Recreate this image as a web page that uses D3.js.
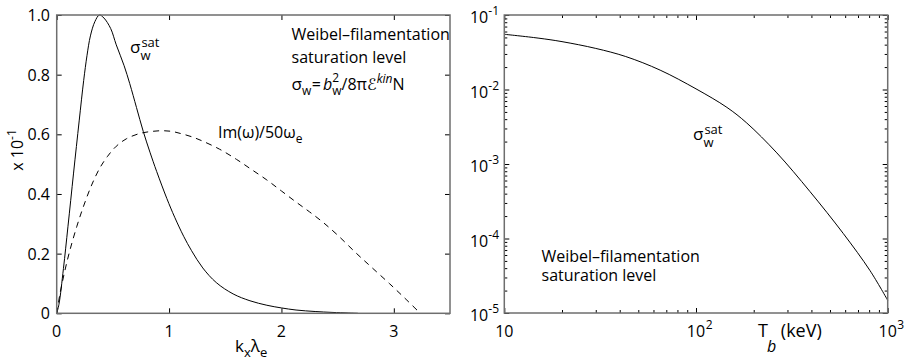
<!DOCTYPE html>
<html><head><meta charset="utf-8">
<script src="https://cdn.jsdelivr.net/npm/d3@7"></script>
<style>
body{margin:0;background:#fff;}
svg{display:block;font-family:"Open Sans","Noto Sans","DejaVu Sans",sans-serif;}
</style></head>
<body><svg id="c" width="907" height="361"></svg>
<script>
// ---- Left panel data ----
const satK = [0, 0.02, 0.06, 0.10, 0.15, 0.20, 0.24, 0.27, 0.30, 0.34, 0.38, 0.42, 0.48, 0.53, 0.60, 0.65, 0.71, 0.77, 0.83, 0.89, 0.98, 1.05, 1.13, 1.20, 1.30, 1.42, 1.57, 1.72, 1.87, 2.00, 2.13, 2.30, 2.45, 2.60, 2.68];
const satVal = [0, 0.03, 0.15, 0.29, 0.47, 0.645, 0.78, 0.865, 0.93, 0.978, 1.0, 0.99, 0.955, 0.90, 0.83, 0.77, 0.69, 0.61, 0.54, 0.475, 0.385, 0.322, 0.258, 0.21, 0.152, 0.103, 0.065, 0.042, 0.027, 0.018, 0.011, 0.006, 0.003, 0.001, 0];
const imK = [0, 0.03, 0.074, 0.118, 0.178, 0.237, 0.311, 0.385, 0.45, 0.53, 0.62, 0.74, 0.83, 0.93, 1.02, 1.10, 1.20, 1.30, 1.45, 1.60, 1.73, 1.87, 2.00, 2.13, 2.25, 2.37, 2.50, 2.667, 2.80, 2.96, 3.10, 3.235];
const imVal = [0, 0.067, 0.145, 0.212, 0.29, 0.357, 0.43, 0.488, 0.525, 0.56, 0.585, 0.603, 0.609, 0.612, 0.61, 0.603, 0.592, 0.577, 0.55, 0.516, 0.483, 0.447, 0.41, 0.373, 0.34, 0.305, 0.262, 0.201, 0.155, 0.10, 0.05, 0];
const leftXTicks = [0, 1, 2, 3];
const leftYTicks = [0, 0.2, 0.4, 0.6, 0.8, 1.0];

// ---- Right panel data ----
const tempT = [10, 15, 20, 30, 43, 65, 100, 145, 184, 264, 393, 586, 809, 1000];
const sigmaT = [0.0551, 0.049, 0.0439, 0.0356, 0.0277, 0.0182, 0.0102, 0.00575, 0.00355, 0.00141, 4.27e-4, 1.17e-4, 3.7e-5, 1.48e-5];
const rightXTicks = [10, 100, 1000];
const rightXTickLabels = [["10",""], ["10","2"], ["10","3"]];
const rightYTicks = [1e-1, 1e-2, 1e-3, 1e-4, 1e-5];
const rightYTickLabels = [["10","-1"], ["10","-2"], ["10","-3"], ["10","-4"], ["10","-5"]];

const svg = d3.select("#c");
const FRAME = "#6e6e6e";

// rich text helper: one <text> with tspans; parts {t, s, dy, st (stack with previous), it, dx, ff}
function rich(parent, x, y, parts, anchor) {
  const t = parent.append("text").attr("fill", "#000");
  let gStart = x, gW = 0;
  const spans = [];
  parts.forEach(p => {
    if (!p.st) { gStart = gStart + gW; gW = 0; }
    const px = gStart + (p.dx || 0);
    const s = t.append("tspan").attr("x", px).attr("y", y + (p.dy || 0))
      .attr("font-size", p.s).text(p.t);
    if (p.it) s.attr("font-style", "italic");
    if (p.ff) s.attr("font-family", p.ff);
    spans.push([s, px]);
    const w = s.node().getComputedTextLength() + (p.dx || 0);
    gW = Math.max(gW, w);
  });
  const total = gStart + gW - x;
  let shift = 0;
  if (anchor === "middle") shift = -total / 2;
  if (anchor === "end") shift = -total;
  if (shift) spans.forEach(([s, px]) => s.attr("x", px + shift));
  return t;
}

// ================= LEFT PANEL =================
const L = {x0: 56.7, x1: 450, y0: 15, y1: 313.3};
const xL = d3.scaleLinear().domain([0, 3.5]).range([L.x0, L.x1]);
const yL = d3.scaleLinear().domain([0, 1]).range([L.y1, L.y0]);
const gL = svg.append("g");

const lineL = d3.line().x(d => xL(d[0])).y(d => yL(d[1])).curve(d3.curveCatmullRom.alpha(0.5));
gL.append("path").datum(imK.map((k, i) => [k, imVal[i]]))
  .attr("d", lineL).attr("fill", "none").attr("stroke", "#000").attr("stroke-width", 1)
  .attr("stroke-dasharray", "6,5");
gL.append("path").datum(satK.map((k, i) => [k, satVal[i]]))
  .attr("d", lineL).attr("fill", "none").attr("stroke", "#000").attr("stroke-width", 1);

// axes with inward ticks
const axLb = d3.axisBottom(xL).tickValues(leftXTicks).tickSize(-5).tickFormat("");
const axLt = d3.axisTop(xL).tickValues(leftXTicks).tickSize(-5).tickFormat("");
const axLl = d3.axisLeft(yL).tickValues(leftYTicks).tickSize(-5).tickFormat("");
const axLr = d3.axisRight(yL).tickValues(leftYTicks).tickSize(-5).tickFormat("");
[[axLb, `translate(0,${L.y1})`], [axLt, `translate(0,${L.y0})`], [axLl, `translate(${L.x0},0)`], [axLr, `translate(${L.x1},0)`]]
  .forEach(([a, tr]) => {
    const g = gL.append("g").attr("transform", tr).call(a);
    g.select(".domain").remove();
    g.selectAll("line").attr("stroke", "#000").attr("stroke-width", 1);
  });
gL.append("rect").attr("x", L.x0).attr("y", L.y0).attr("width", L.x1 - L.x0).attr("height", L.y1 - L.y0)
  .attr("fill", "none").attr("stroke", FRAME).attr("stroke-width", 1.5);

// tick labels
leftXTicks.forEach(v => {
  gL.append("text").attr("x", xL(v)).attr("y", 337).attr("text-anchor", "middle")
    .attr("font-size", 16).text(d3.format("d")(v));
});
leftYTicks.forEach(v => {
  gL.append("text").attr("x", 50).attr("y", yL(v) + 6).attr("text-anchor", "end")
    .attr("font-size", 16).text(v === 0 ? "0" : d3.format(".1f")(v));
});

// axis labels
rich(gL, xL(1.73), 352, [{t: "k", s: 17}, {t: "x", s: 13, dy: 5}, {t: "λ", s: 17}, {t: "e", s: 13, dy: 5}], "middle");
const yLab = gL.append("g").attr("transform", `translate(23,150) rotate(-90)`);
rich(yLab, 0, 0, [{t: "x 10", s: 16}, {t: "-1", s: 12, dy: -7}], "middle");

// annotations
rich(gL, 130, 53, [{t: "σ", s: 17}, {t: "w", s: 13, dy: 7}, {t: "sat", s: 13, dy: -6, st: true, dx: 1}]);
rich(gL, 218, 138, [{t: "Im(ω)/50ω", s: 16}, {t: "e", s: 12, dy: 5}]);
rich(gL, 291.5, 40, [{t: "Weibel–filamentation", s: 16}]);
rich(gL, 291.5, 63, [{t: "saturation level", s: 16}]);
rich(gL, 291.5, 90, [
  {t: "σ", s: 17}, {t: "w", s: 12, dy: 5}, {t: "=", s: 16, dx: 0.5}, {t: "\u00a0", s: 8},
  {t: "b", s: 16, it: true}, {t: "2", s: 12, dy: -8}, {t: "w", s: 12, dy: 5, st: true},
  {t: "/8π", s: 16}, {t: "ℰ", s: 16, ff: "DejaVu Sans"}, {t: "kin", s: 12, dy: -7, it: true}, {t: "N", s: 16}
]);

// ================= RIGHT PANEL =================
const R = {x0: 504.3, x1: 887.7, y0: 15, y1: 313};
const xR = d3.scaleLog().domain([10, 1000]).range([R.x0, R.x1]);
const yR = d3.scaleLog().domain([1e-5, 1e-1]).range([R.y1, R.y0]);
const gR = svg.append("g");

gR.append("path").datum(tempT.map((t, i) => [t, sigmaT[i]]))
  .attr("d", d3.line().x(d => xR(d[0])).y(d => yR(d[1])).curve(d3.curveCatmullRom.alpha(0.5)))
  .attr("fill", "none").attr("stroke", "#000").attr("stroke-width", 1);

const xMinor = xR.ticks().filter(v => !rightXTicks.includes(v));
const yMinor = yR.ticks().filter(v => !rightYTicks.some(m => Math.abs(m - v) / m < 1e-6));
function logAxis(axisFn, scale, major, minor, tr) {
  const g1 = gR.append("g").attr("transform", tr).call(axisFn(scale).tickValues(major).tickSize(-5).tickFormat(""));
  const g2 = gR.append("g").attr("transform", tr).call(axisFn(scale).tickValues(minor).tickSize(-3).tickFormat(""));
  [g1, g2].forEach(g => { g.select(".domain").remove(); g.selectAll("line").attr("stroke", "#000").attr("stroke-width", 1); });
}
logAxis(d3.axisBottom, xR, rightXTicks, xMinor, `translate(0,${R.y1})`);
logAxis(d3.axisTop, xR, rightXTicks, xMinor, `translate(0,${R.y0})`);
logAxis(d3.axisLeft, yR, rightYTicks, yMinor, `translate(${R.x0},0)`);
logAxis(d3.axisRight, yR, rightYTicks, yMinor, `translate(${R.x1},0)`);
gR.append("rect").attr("x", R.x0).attr("y", R.y0).attr("width", R.x1 - R.x0).attr("height", R.y1 - R.y0)
  .attr("fill", "none").attr("stroke", FRAME).attr("stroke-width", 1.5);

// tick labels
rightXTicks.forEach((v, i) => {
  const [b, e] = rightXTickLabels[i];
  const t = gR.append("text").attr("y", 337).attr("font-size", 16).attr("x", xR(v));
  const sb = t.append("tspan").attr("font-size", 16).text(b);
  const w = sb.node().getComputedTextLength();
  sb.attr("x", xR(v) - w / 2);
  if (e) t.append("tspan").attr("x", xR(v) + w / 2 + 0.5).attr("y", 329).attr("font-size", 12).text(e);
});
rightYTicks.forEach((v, i) => {
  const [b, e] = rightYTickLabels[i];
  rich(gR, 499, yR(v) + 8, [{t: b, s: 16}, {t: e, s: 12, dy: -8}], "end");
});

// axis label
rich(gR, 758, 337, [{t: "T", s: 18}, {t: "b", s: 16, dy: 15, it: true, dx: -1}, {t: "\u00a0(keV)", s: 18}]);

// annotations
rich(gR, 693, 140, [{t: "σ", s: 17}, {t: "w", s: 13, dy: 7}, {t: "sat", s: 13, dy: -6, st: true, dx: 1}]);
rich(gR, 541.5, 262, [{t: "Weibel–filamentation", s: 16}]);
rich(gR, 541.5, 281, [{t: "saturation level", s: 16}]);
</script>
</body></html>
